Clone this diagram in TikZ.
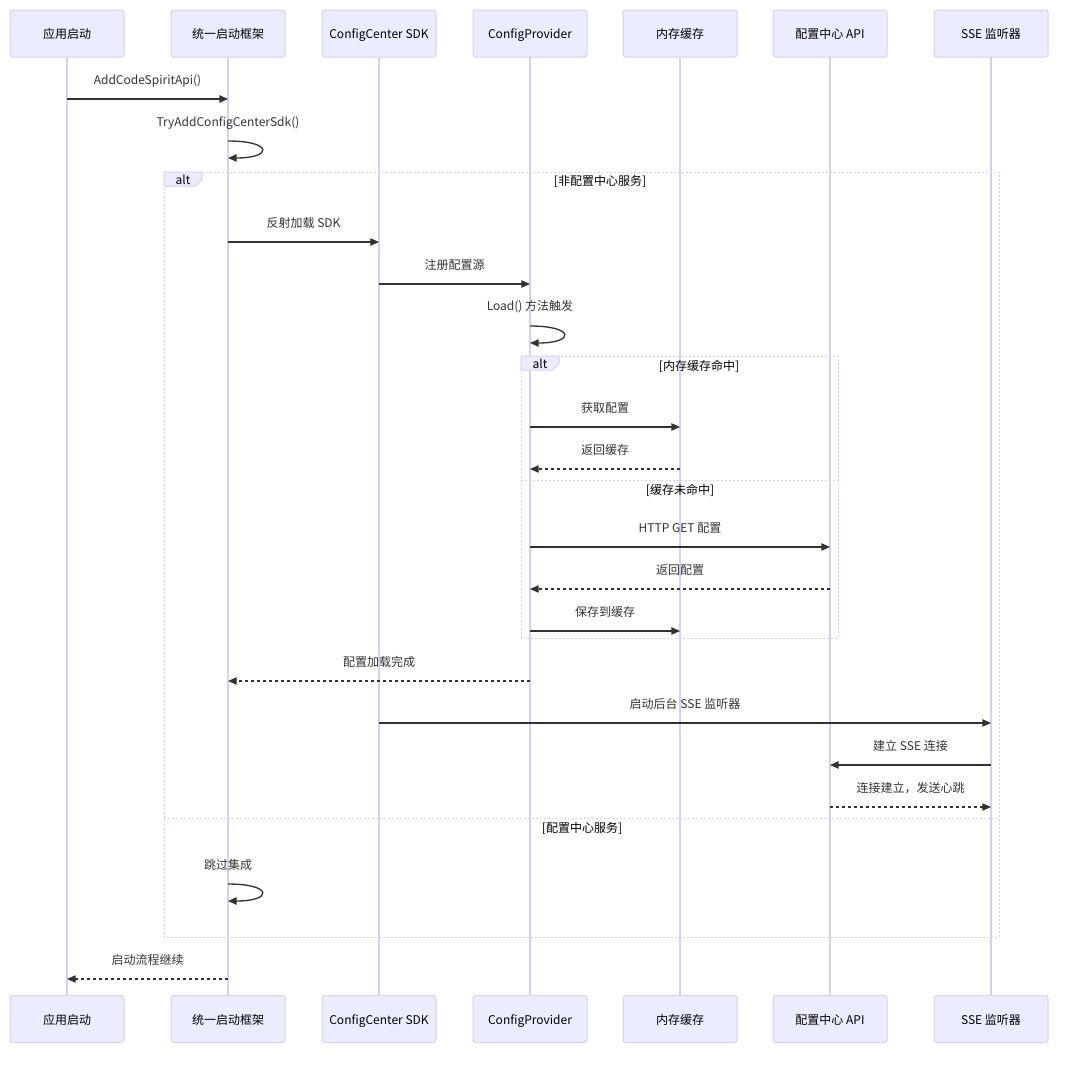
\documentclass[tikz,border=0pt]{standalone}
\usepackage{fontspec}
\setmainfont{Noto Sans CJK SC}
\usetikzlibrary{arrows.meta,positioning}
\definecolor{actor-fill}{HTML}{ECECFF}
\definecolor{actor-line}{HTML}{D8CFF3}
\definecolor{msg-text}{HTML}{333333}

\begin{document}
\begin{tikzpicture}[x=0.75pt, y=-0.75pt, >={Triangle[length=6.5pt,width=5.5pt]},
    actor/.style={draw=actor-line, fill=actor-fill, rounded corners=2pt, line width=0.75pt,
      minimum width=85.5pt, minimum height=35.25pt, text height=7pt, text depth=1.8pt,
      font=\fontsize{9}{11}\selectfont},
    life/.style={draw=actor-line, line width=1pt},
    sig/.style={->, draw=msg-text, line width=1pt},
    reply/.style={sig, line width=0.8pt, dash pattern=on 2.25pt off 2.25pt},
    lbl/.style={text=msg-text, text height=7pt, text depth=1.8pt, font=\fontsize{9}{11}\selectfont},
    cond/.style={lbl, text=black},
    frame/.style={draw=actor-line, line width=0.75pt, dash pattern=on 1.5pt off 1.5pt},
    tab/.style={draw=actor-line, fill=actor-fill, line width=0.75pt}]
    \useasboundingbox (0,0) rectangle (1080,1064);

    \foreach \n/\x/\t in {app/67/应用启动, fw/228/统一启动框架, sdk/379/ConfigCenter SDK,
        prov/530/ConfigProvider, cache/680/内存缓存, api/830/配置中心 API, sse/991/SSE 监听器} {
      \draw[life] (\x,57) -- (\x,995);
      \node[actor] (top-\n) at (\x,33.5) {\raisebox{-1.2pt}{\t}};
      \node[actor] (bot-\n) at (\x,1019) {\raisebox{-1.2pt}{\t}};
    }

    % outer alt
    \draw[frame] (164,172) rectangle (999,937);
    \draw[tab] (164,172) -- (202,172) -- (202,180) -- (195,186) -- (164,186) -- cycle;
    \node[cond] (alt1) at (183,181) {alt};
    \node[cond] (c1) at (600,182) {[非配置中心服务]};
    \draw[frame] (164,818) -- (999,818);
    \node[cond] (c2) at (582,829) {[配置中心服务]};

    % inner alt
    \draw[frame] (521,356) rectangle (838,638);
    \draw[tab] (521,356) -- (559,356) -- (559,364) -- (552,370) -- (521,370) -- cycle;
    \node[cond] (alt2) at (540,365.5) {alt};
    \node[cond] (c3) at (699,367) {[内存缓存命中]};
    \draw[frame] (521,480) -- (838,480);
    \node[cond] (c4) at (680,491) {[缓存未命中]};

    \draw[sig] (top-app |- 0,99) -- node[lbl, yshift=13.5pt] (m1) {AddCodeSpiritApi()} (top-fw |- 0,99);
    \node[lbl] (m2) at (top-fw |- 0,123) {TryAddConfigCenterSdk()};
    \draw[sig] (top-fw |- 0,141) .. controls +(45,0) and +(45,0) .. (top-fw |- 0,158);
    \draw[sig] (top-fw |- 0,242) -- node[lbl, yshift=13.5pt] (m3) {反射加载 SDK} (top-sdk |- 0,242);
    \draw[sig] (top-sdk |- 0,284) -- node[lbl, yshift=13.5pt] (m4) {注册配置源} (top-prov |- 0,284);
    \node[lbl] (m5) at (top-prov |- 0,307) {Load() 方法触发};
    \draw[sig] (top-prov |- 0,326) .. controls +(45,0) and +(45,0) .. (top-prov |- 0,343);
    \draw[sig] (top-prov |- 0,427) -- node[lbl, yshift=13.5pt] (m6) {获取配置} (top-cache |- 0,427);
    \draw[reply] (top-cache |- 0,469) -- node[lbl, yshift=13.5pt] (m7) {返回缓存} (top-prov |- 0,469);
    \draw[sig] (top-prov |- 0,547) -- node[lbl, yshift=13.5pt] (m8) {HTTP GET 配置} (top-api |- 0,547);
    \draw[reply] (top-api |- 0,589) -- node[lbl, yshift=13.5pt] (m9) {返回配置} (top-prov |- 0,589);
    \draw[sig] (top-prov |- 0,631) -- node[lbl, yshift=13.5pt] (m10) {保存到缓存} (top-cache |- 0,631);
    \draw[reply] (top-prov |- 0,681) -- node[lbl, yshift=13.5pt] (m11) {配置加载完成} (top-fw |- 0,681);
    \draw[sig] (top-sdk |- 0,723) -- node[lbl, yshift=13.5pt] (m12) {启动后台 SSE 监听器} (top-sse |- 0,723);
    \draw[sig] (top-sse |- 0,765) -- node[lbl, yshift=13.5pt] (m13) {建立 SSE 连接} (top-api |- 0,765);
    \draw[reply] (top-api |- 0,807) -- node[lbl, yshift=13.5pt] (m14) {连接建立，发送心跳} (top-sse |- 0,807);
    \node[lbl] (m15) at (top-fw |- 0,866) {跳过集成};
    \draw[sig] (top-fw |- 0,884) .. controls +(45,0) and +(45,0) .. (top-fw |- 0,901);
    \draw[reply] (top-fw |- 0,979) -- node[lbl, yshift=13.5pt] (m16) {启动流程继续} (top-app |- 0,979);
\end{tikzpicture}
\end{document}
